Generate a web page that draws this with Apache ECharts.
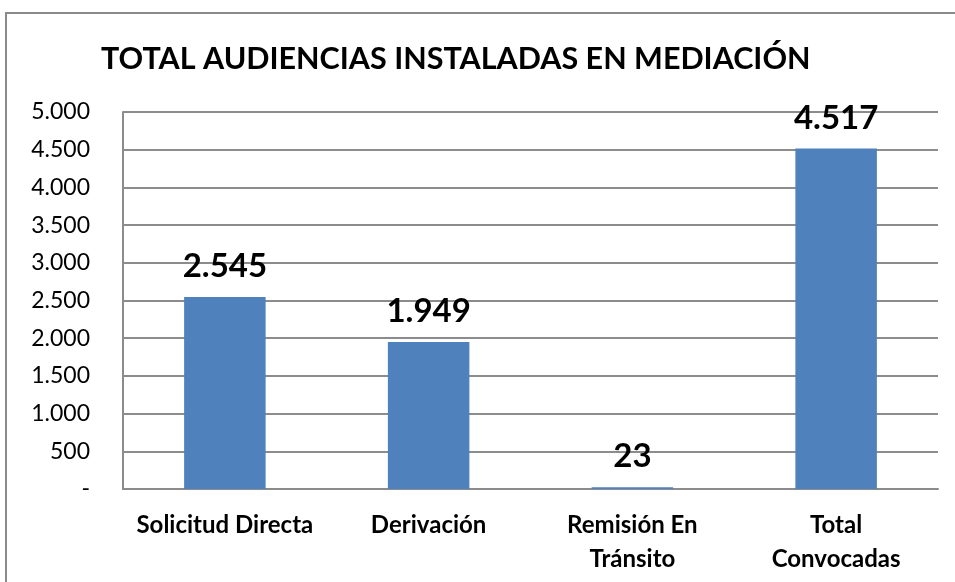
<!DOCTYPE html>
<html>
<head>
<meta charset="utf-8">
<script src="https://cdn.jsdelivr.net/npm/echarts@6/dist/echarts.min.js"></script>
<style>
  html, body { margin: 0; padding: 0; background: #fff; }
  #chart { width: 955px; height: 582px; }
</style>
</head>
<body>
<div id="chart"></div>
<script>
var categories = ["Solicitud Directa", "Derivación", "Remisión En\nTránsito", "Total\nConvocadas"];
var values = [2545, 1949, 23, 4517];
var yMax = 5000;
var yStep = 500;

// formato con punto de miles, cero como guion
function fmt(v) {
  if (v === 0) return "-";
  return String(v).replace(/\B(?=(\d{3})+(?!\d))/g, ".");
}

var chart = echarts.init(document.getElementById("chart"));
var option = {
  backgroundColor: "#fff",
  animation: false,
  title: {
    text: "TOTAL AUDIENCIAS INSTALADAS EN MEDIACIÓN",
    left: 96,
    top: 39,
    textStyle: {
      fontFamily: "Lato",
      fontWeight: "bold",
      fontSize: 30.5,
      color: "#000"
    }
  },
  graphic: [
    {
      type: "rect",
      shape: { x: 6, y: 13, width: 1000, height: 1000 },
      style: { fill: "none", stroke: "#8a8a8a", lineWidth: 2 },
      silent: true
    }
  ],
  grid: {
    left: 123,
    right: 17,
    top: 112,
    bottom: 93
  },
  xAxis: {
    type: "category",
    data: categories,
    axisTick: { show: false },
    axisLine: { lineStyle: { color: "#8c8c8c", width: 2 } },
    axisLabel: {
      margin: 19,
      fontFamily: "Lato",
      fontWeight: "bold",
      fontSize: 24,
      lineHeight: 34,
      color: "#000",
      interval: 0
    }
  },
  yAxis: {
    type: "value",
    min: 0,
    max: yMax,
    interval: yStep,
    axisLine: { show: true, lineStyle: { color: "#8c8c8c", width: 2 } },
    axisTick: { show: false },
    splitLine: { lineStyle: { color: "#8c8c8c", width: 2 } },
    axisLabel: {
      margin: 33,
      fontFamily: "Lato",
      fontSize: 23,
      color: "#000",
      formatter: fmt
    }
  },
  series: [
    {
      type: "bar",
      data: values,
      barCategoryGap: "60%",
      itemStyle: { color: "#4F81BD" },
      label: {
        show: true,
        position: "top",
        distance: 14,
        fontFamily: "Lato",
        fontWeight: "bold",
        fontSize: 33,
        color: "#000",
        formatter: function (p) { return fmt(p.value); }
      }
    }
  ]
};
chart.setOption(option);
</script>
</body>
</html>
